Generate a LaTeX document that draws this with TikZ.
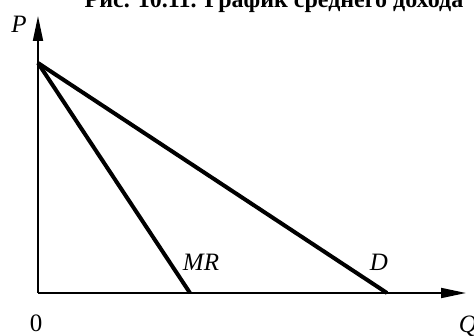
\documentclass[tikz,border=0pt]{standalone}
\usepackage{fontspec}
\setmainfont{Liberation Serif}
\usetikzlibrary{arrows.meta}
\tikzset{
  axis/.style={line width=1.8pt, -{Triangle[length=25pt,width=10pt]}},
  curve/.style={line width=4pt},
  lbl/.style={font=\fontsize{25}{25}\selectfont\itshape, inner sep=0pt},
  num/.style={font=\fontsize{25}{25}\selectfont, inner sep=0pt},
  ttl/.style={font=\fontsize{24}{24}\selectfont\bfseries, inner sep=0pt, anchor=base}
}
\begin{document}
\begin{tikzpicture}[x=1pt,y=-1pt]
\useasboundingbox (0,0) rectangle (474,336);
\clip (0,0) rectangle (474,336);
\coordinate (O) at (38,293);
\coordinate (Ptop) at (38,16);
\coordinate (Qend) at (466,293);
\coordinate (A) at (38,63);
\coordinate (MRq) at (190,293);
\coordinate (Dq) at (387,293);
\draw[axis] (O) -- (Ptop);
\draw[axis] (O) -- (Qend);
\draw[curve] (A) -- (MRq);
\draw[curve] (A) -- (Dq);
\node[ttl] (title) at (274,8) {Рис. 10.11. График среднего дохода};
\node[lbl] (P) at (19,24) {P};
\node[num] (zero) at (36,323) {0};
\node[lbl] (Q) at (468,326) {Q};
\node[lbl] (MR) at (201,262) {MR};
\node[lbl] (D) at (379,262) {D};
\end{tikzpicture}
\end{document}
